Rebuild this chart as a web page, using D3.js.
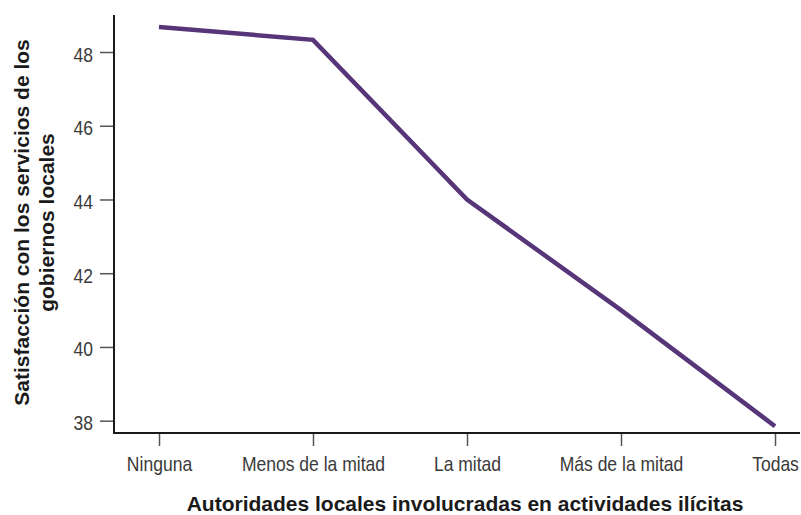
<!DOCTYPE html>
<html><head><meta charset="utf-8">
<script src="https://cdn.jsdelivr.net/npm/d3@7"></script>
<style>body{margin:0;background:#fff}</style>
</head><body>
<svg id="c" width="801" height="515"></svg>
<script>
const categories = ["Ninguna","Menos de la mitad","La mitad","Más de la mitad","Todas"];
const values = [48.68, 48.33, 44.0, 41.0, 37.85];
const yTicks = [38, 40, 42, 44, 46, 48];
const yTitle = ["Satisfacción con los servicios de los", "gobiernos locales"];
const xTitle = "Autoridades locales involucradas en actividades ilícitas";

const svg = d3.select("#c");
const axL = 114, axR = 800, axT = 15, axB = 433;
const x = d3.scalePoint().domain(categories).range([159, 775]);
const y = d3.scaleLinear().domain([37.666, 49.004]).range([axB, axT]);
const font = "'Liberation Sans',Arial,sans-serif";
const sx = 0.835; // condensed look for tick labels

// y axis
const ya = svg.append("g").attr("transform", `translate(${axL},0)`)
  .call(d3.axisLeft(y).tickValues(yTicks).tickSize(14).tickFormat(d3.format("d")));
ya.select(".domain").remove();
ya.selectAll(".tick line").attr("stroke", "#555").attr("stroke-width", 1.5);
ya.selectAll(".tick text").attr("font-family", font).attr("font-size", 21).attr("fill", "#3a3a3a")
  .attr("x", -21 / sx).attr("dy", "0.43em").attr("transform", `scale(${sx},1)`);

// x axis
const xa = svg.append("g").attr("transform", `translate(0,${axB})`)
  .call(d3.axisBottom(x).tickSize(13));
xa.select(".domain").remove();
xa.selectAll(".tick line").attr("stroke", "#555").attr("stroke-width", 1.5);
xa.selectAll(".tick text").attr("font-family", font).attr("font-size", 21).attr("fill", "#3a3a3a")
  .attr("y", 38).attr("dy", 0).attr("transform", `scale(${sx},1)`);

// axis lines
svg.append("path").attr("d", `M${axL},${axT}V${axB}H${axR}`)
  .attr("fill", "none").attr("stroke", "#1a1a1a").attr("stroke-width", 2);

// line
svg.append("path").datum(values)
  .attr("d", d3.line().x((d, i) => x(categories[i])).y(d => y(d)))
  .attr("fill", "none").attr("stroke", "#573579").attr("stroke-width", 4.5)
  .attr("stroke-linejoin", "miter");

// titles
const yt = svg.append("text").attr("transform", "translate(0,222.5) rotate(-90)")
  .attr("text-anchor", "middle").attr("font-family", font)
  .attr("font-weight", "bold").attr("font-size", 21).attr("fill", "#1a1a1a");
yt.append("tspan").attr("x", 0).attr("y", 29).text(yTitle[0]);
yt.append("tspan").attr("x", 0).attr("y", 54).text(yTitle[1]);

svg.append("text").attr("x", 465).attr("y", 511).attr("text-anchor", "middle")
  .attr("font-family", font).attr("font-weight", "bold")
  .attr("font-size", 21).attr("fill", "#1a1a1a").text(xTitle);
</script>
</body></html>
